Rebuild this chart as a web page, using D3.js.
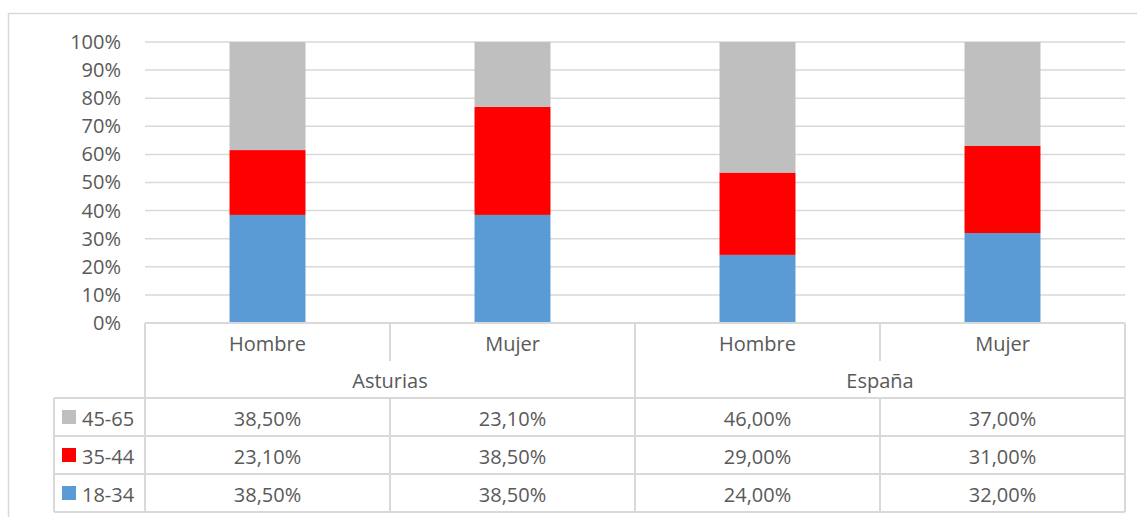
<!DOCTYPE html>
<html>
<head>
<meta charset="utf-8">
<script src="https://cdn.jsdelivr.net/npm/d3@7"></script>
<style>
  body { margin: 0; background: #fff; }
  svg { display: block; font-family: "Open Sans", sans-serif; }
</style>
</head>
<body>
<div id="chart"></div>
<script>
// Data
var groups = ["Asturias", "Asturias", "España", "España"];
var groupNames = ["Asturias", "España"];
var sexes = ["Hombre", "Mujer", "Hombre", "Mujer"];
var ageBands = ["18-34", "35-44", "45-65"];
var values1834 = [38.5, 38.5, 24.0, 32.0];
var values3544 = [23.1, 38.5, 29.0, 31.0];
var values4565 = [38.5, 23.1, 46.0, 37.0];
var yTicks = [0, 0.1, 0.2, 0.3, 0.4, 0.5, 0.6, 0.7, 0.8, 0.9, 1.0];

var colors = {"18-34": "#5B9BD5", "35-44": "#FF0000", "45-65": "#BFBFBF"};
var seriesValues = {"18-34": values1834, "35-44": values3544, "45-65": values4565};

var svgWidth = 1137, svgHeight = 517;
var margin = {top: 42, left: 145, right: 12};
var plotBottom = 323;
var plotRight = 1125;
var textColor = "#595959";
var lineColor = "#D9D9D9";

var svg = d3.select("#chart").append("svg")
  .attr("width", svgWidth)
  .attr("height", svgHeight);

// outer chart border
svg.append("rect")
  .attr("x", 8.5).attr("y", 13.5)
  .attr("width", svgWidth + 20).attr("height", svgHeight + 20)
  .attr("fill", "none").attr("stroke", lineColor).attr("stroke-width", 1.5);

var rows = sexes.map(function(s, i){
  var r = {key: i};
  ageBands.forEach(function(a){ r[a] = seriesValues[a][i]; });
  return r;
});

var xScale = d3.scaleBand()
  .domain(d3.range(sexes.length))
  .range([margin.left, plotRight])
  .paddingInner(0.69)
  .paddingOuter(0.345);

var yScale = d3.scaleLinear().domain([0, 1]).range([plotBottom, margin.top]);

// gridlines
svg.append("g").selectAll("line").data(yTicks.slice(1)).enter().append("line")
  .attr("x1", margin.left).attr("x2", plotRight)
  .attr("y1", d => yScale(d)).attr("y2", d => yScale(d))
  .attr("stroke", lineColor).attr("stroke-width", 1.5);

// y axis
var yAxis = svg.append("g")
  .attr("transform", "translate(" + (margin.left - 24) + ",0)")
  .call(d3.axisLeft(yScale).tickValues(yTicks).tickSize(0).tickPadding(0).tickFormat(d3.format(".0%")));
yAxis.select(".domain").remove();
yAxis.selectAll("text")
  .attr("fill", textColor)
  .style("font-size", "20px")
  .style("font-family", "Open Sans, sans-serif");

// stacked bars
var stack = d3.stack().keys(ageBands).offset(d3.stackOffsetExpand);
var layers = stack(rows);

svg.append("g").selectAll("g").data(layers).enter().append("g")
  .attr("fill", d => colors[d.key])
  .selectAll("rect").data(d => d).enter().append("rect")
  .attr("x", d => xScale(d.data.key))
  .attr("y", d => yScale(d[1]))
  .attr("width", xScale.bandwidth())
  .attr("height", d => yScale(d[0]) - yScale(d[1]));

// data table
var step = xScale.step();
var table = svg.append("g");
var rowTops = [323, 361, 398, 436, 474, 512];
var legendLeft = 54;

function hline(x1, x2, y){
  table.append("line").attr("x1", x1).attr("x2", x2).attr("y1", y).attr("y2", y)
    .attr("stroke", lineColor).attr("stroke-width", 2);
}
function vline(x, y1, y2){
  table.append("line").attr("x1", x).attr("x2", x).attr("y1", y1).attr("y2", y2)
    .attr("stroke", lineColor).attr("stroke-width", 2);
}

// horizontal lines
hline(margin.left, plotRight, rowTops[0]);
hline(legendLeft, plotRight, rowTops[2]);
hline(legendLeft, plotRight, rowTops[3]);
hline(legendLeft, plotRight, rowTops[4]);
hline(legendLeft, plotRight, rowTops[5]);

// vertical lines
vline(margin.left, rowTops[0], rowTops[5]);
vline(plotRight, rowTops[0], rowTops[5]);
vline(legendLeft, rowTops[2], rowTops[5]);
vline(margin.left + 2 * step, rowTops[0], rowTops[5]);
[1, 3].forEach(function(i){
  vline(margin.left + i * step, rowTops[0], rowTops[1]);
  vline(margin.left + i * step, rowTops[2], rowTops[5]);
});

function cellText(x, y, txt){
  table.append("text")
    .attr("x", x).attr("y", y)
    .attr("text-anchor", "middle")
    .attr("dominant-baseline", "central")
    .attr("fill", textColor)
    .style("font-size", "20px")
    .text(txt);
}

// category labels
sexes.forEach(function(s, i){
  cellText(xScale(i) + xScale.bandwidth() / 2, (rowTops[0] + rowTops[1]) / 2 + 1, s);
});
groupNames.forEach(function(g, gi){
  cellText(margin.left + (gi * 2 + 1) * step, (rowTops[1] + rowTops[2]) / 2 + 1, g);
});

// data rows (top to bottom: 45-65, 35-44, 18-34)
var tableOrder = ageBands.slice().reverse();
var fmt = function(v){ return v.toFixed(2).replace(".", ",") + "%"; };
tableOrder.forEach(function(a, ri){
  var cy = (rowTops[ri + 2] + rowTops[ri + 3]) / 2 + 1;
  table.append("rect")
    .attr("x", 62).attr("y", cy - 8)
    .attr("width", 14).attr("height", 14)
    .attr("fill", colors[a]);
  table.append("text")
    .attr("x", 82).attr("y", cy)
    .attr("dominant-baseline", "central")
    .attr("fill", textColor)
    .style("font-size", "20px")
    .text(a);
  seriesValues[a].forEach(function(v, i){
    cellText(xScale(i) + xScale.bandwidth() / 2, cy, fmt(v));
  });
});
</script>
</body>
</html>
